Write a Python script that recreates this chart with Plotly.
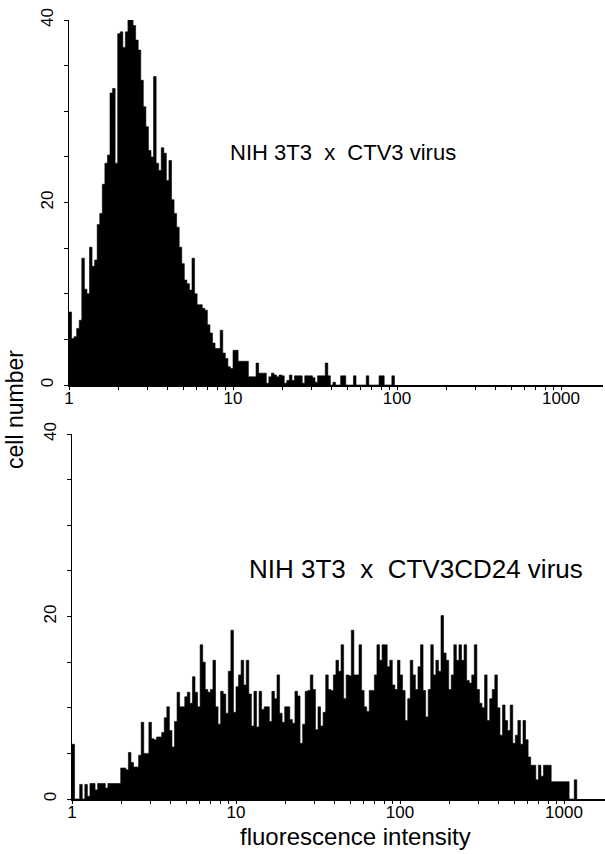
import plotly.graph_objects as go

# channel resolution of the histograms (channels per decade of fluorescence)
CH_PER_DECADE = 64

# cell counts per channel, starting at fluorescence intensity 1
top_counts = [
    8, 5.1, 5.3, 6.2, 7.1, 13.9, 10.5, 10, 15.1, 13,
    13.7, 17.6, 18.8, 22, 24.3, 25.2, 32, 32.5, 24.3, 38.5,
    38.7, 37, 38.7, 40, 40, 39.4, 37.8, 36.7, 33.4, 30.5,
    28.3, 25.7, 25, 33.8, 24.3, 23.5, 26, 25.4, 22.4, 24.6,
    20.3, 18.8, 17.3, 15.1, 13.3, 11.5, 11.1, 10.4, 13.9, 10,
    8.8, 8.8, 8.4, 8.2, 6.6, 5.7, 4.6, 4, 4, 6,
    3.5, 2.9, 2, 1.8, 3.8, 3.8, 2.6, 2.6, 2.6, 2.6,
    0.9, 0.9, 0.9, 2.4, 1.3, 1.3, 1.3, 0.2, 0.9, 1.3,
    1.1, 0.9, 1.1, 1, 0.2, 0.5, 1.1, 0.5, 1, 1,
    1, 0.2, 1, 1, 1, 0.8, 0.3, 1, 1, 1,
    2.4, 1, 0, 0.3, 0, 0, 1, 1, 0, 0,
    0, 1, 0, 0, 0, 0, 1, 0, 0, 0,
    0, 1, 1, 0, 0, 0, 1,
]

bottom_counts = [
    6, 0, 0, 1.6, 0, 1.6, 0.3, 1.7, 1.7, 1.0,
    1.7, 1.7, 1.7, 1.2, 1.7, 1.7, 1.7, 1.7, 1.7, 3.4,
    3.4, 3.2, 5.1, 4.0, 3.5, 3.5, 4.8, 8.4, 5.0, 5.0,
    8.4, 6.6, 6.5, 6.8, 6.8, 7.3, 8.9, 10.1, 7.5, 5.7,
    8.5, 11.7, 10.1, 10.1, 11.2, 11.7, 10.5, 13.4, 11.7, 10.1,
    16.9, 15, 12, 11.7, 12, 15.2, 10.1, 8.2, 11.8, 11.5,
    9.4, 14, 18.5, 9.5, 12.3, 13.6, 15.2, 12.5, 15.2, 11.5,
    8, 11.8, 7.9, 11.8, 9.8, 10.1, 10.1, 8.5, 11.8, 11,
    13.6, 9.4, 8.4, 10.1, 10.1, 8.7, 8.3, 11.8, 11.3, 6.1,
    8.2, 11.8, 11.9, 13.6, 12, 7.6, 10.1, 8, 9.5, 13.6,
    12, 11.9, 13.6, 15.2, 14, 16.9, 11, 13.6, 13.5, 18.5,
    13.6, 13.6, 16.9, 11.9, 10.1, 9.6, 11.9, 11.9, 13.6, 16.9,
    15.2, 16.9, 16.9, 14.5, 15.2, 12.5, 12, 15.2, 13.6, 11.9,
    8.6, 11, 15.2, 13.6, 12, 14.5, 16.9, 11.9, 9, 12,
    16.9, 13.6, 15.2, 14, 20.1, 16, 15.2, 12, 13.6, 16.9,
    15.2, 16.9, 15.2, 16.9, 13, 12.7, 13.6, 16.9, 12, 10.5,
    10, 13.6, 8.6, 11, 12, 13.6, 10, 7, 10.3, 8.6,
    7.5, 10.3, 6.1, 7, 8.6, 6, 8.6, 6.5, 4.6, 3.7,
    3.7, 2.1, 3.7, 2.5, 3.7, 3.7, 3.7, 1.9, 1.9, 1.9,
    1.9, 1.9, 1.9, 1.9, 0, 0, 2.1,
]

x_tick_vals = [m * 10 ** d for d in range(4) for m in range(1, 10)]
x_tick_text = [str(m * 10 ** d) if m == 1 else "" for d in range(4) for m in range(1, 10)]
y_tick_vals = [0, 5, 10, 15, 20, 25, 30, 35, 40]
y_tick_text = ["0", "", "", "", "20", "", "", "", "40"]

top_label = "NIH 3T3  x  CTV3 virus"
bottom_label = "NIH 3T3  x  CTV3CD24 virus"
x_title = "fluorescence intensity"
y_title = "cell number"

FONT = "Liberation Sans, Arial, sans-serif"
W, H = 605, 854


def step_xy(counts):
    edges = [10 ** (i / CH_PER_DECADE) for i in range(len(counts) + 1)]
    ys = list(counts) + [0]
    return edges, ys


fig = go.Figure()
for counts, xa, ya in [(top_counts, "x", "y"), (bottom_counts, "x2", "y2")]:
    xs, ys = step_xy(counts)
    fig.add_trace(go.Scatter(
        x=xs, y=ys, mode="lines", line=dict(shape="hv", color="black", width=0.6),
        fill="tozeroy", fillcolor="black", xaxis=xa, yaxis=ya, showlegend=False,
        hoverinfo="skip"))


def xaxis(domain, rng, anchor):
    return dict(type="log", range=rng, domain=domain, anchor=anchor, automargin=False,
                showline=True, linecolor="black", linewidth=1.5,
                ticks="outside", ticklen=3, tickcolor="black", tickwidth=1,
                tickmode="array", tickvals=x_tick_vals, ticktext=x_tick_text,
                ticklabelstandoff=-6,
                tickfont=dict(family=FONT, size=17, color="black"),
                showgrid=False, zeroline=False)


def yaxis(domain, anchor):
    return dict(range=[0, 40], domain=domain, anchor=anchor, automargin=False,
                showline=True, linecolor="black", linewidth=1.5,
                ticks="outside", ticklen=4, tickcolor="black", tickwidth=1,
                tickmode="array", tickvals=y_tick_vals, ticktext=y_tick_text,
                tickangle=-90, ticklabelstandoff=4,
                tickfont=dict(family=FONT, size=17, color="black"),
                showgrid=False, zeroline=False)


def label(text, x, y, size, angle=0):
    return dict(text=text, x=x / W, y=(H - y) / H, xref="paper", yref="paper",
                xanchor="center", yanchor="middle", showarrow=False, textangle=angle,
                font=dict(family=FONT, size=size, color="black"))


fig.update_layout(
    template="none",
    width=W, height=H, margin=dict(l=0, r=0, t=0, b=0, autoexpand=False),
    paper_bgcolor="white", plot_bgcolor="white",
    xaxis=xaxis([69 / W, 603 / W], [0, (603 - 69) / 164], "y"),
    yaxis=yaxis([(H - 385) / H, (H - 20) / H], "x"),
    xaxis2=xaxis([72 / W, 605 / W], [0, (605 - 72) / 164], "y2"),
    yaxis2=yaxis([(H - 799) / H, (H - 434) / H], "x2"),
    annotations=[
        label(top_label, 343, 153, 22),
        label(bottom_label, 416, 569, 26),
        label(x_title, 355, 836, 24),
        label(y_title, 15, 410, 23, -90),
    ],
)

fig.write_html(
    "out.html",
    config={"displayModeBar": False, "staticPlot": True},
    post_script="document.body.style.margin='0px';"
                "document.documentElement.style.overflow='hidden';",
)
